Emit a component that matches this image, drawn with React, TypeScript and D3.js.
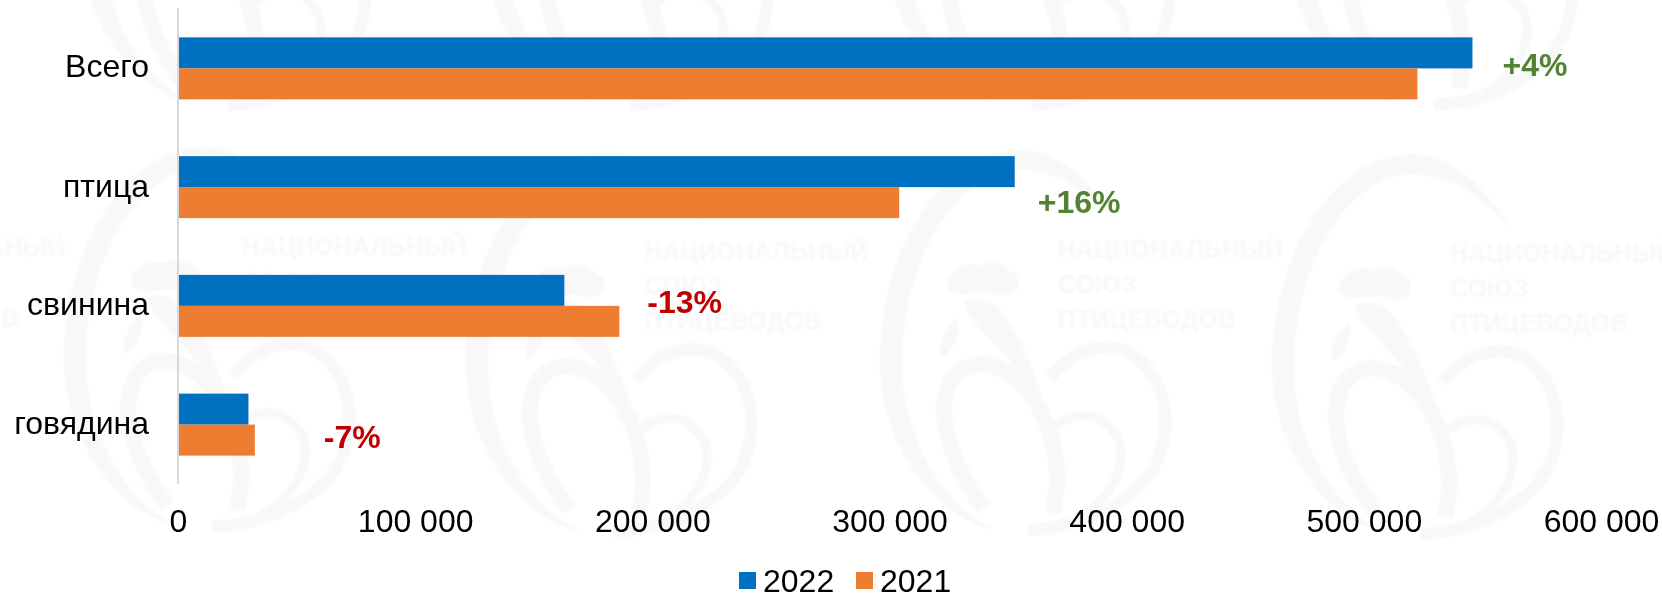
import { useRef, useEffect } from 'react';
import * as d3 from 'd3';

const categories = ['Всего', 'птица', 'свинина', 'говядина'];
const series2022 = [545800, 352800, 162900, 29700];
const series2021 = [522600, 304100, 186100, 32400];
const changes = ['+4%', '+16%', '-13%', '-7%'];
const xTicks = [0, 100000, 200000, 300000, 400000, 500000, 600000];
const seriesNames = ['2022', '2021'];
const watermarkLines = ['НАЦИОНАЛЬНЫЙ', 'СОЮЗ', 'ПТИЦЕВОДОВ'];

// label offsets from the longer bar of each group, placed by hand
const changeOffsets = [
  { dx: 30, dy: -4 },
  { dx: 23, dy: 15 },
  { dx: 28, dy: -4 },
  { dx: 69, dy: 12 },
];

const BLUE = '#0070c0';
const ORANGE = '#ed7d31';
const MARK = '#f8f8f8';
const FONT = '"Liberation Sans", Arial, sans-serif';

const width = 1662;
const height = 597;

// one tile of the background logo, origin at the start of the text
function drawLogo(g: d3.Selection<SVGGElement, unknown, null, undefined>, lines: boolean) {
  // egg outline, a crescent open at the right
  g.append('path')
    .attr('fill', MARK)
    .attr(
      'd',
      'M62,-31 C30,-85 -5,-108 -38,-108 C-115,-108 -178,-10 -178,105 C-178,185 -125,260 -61,272 C-115,250 -156,180 -156,105 C-156,0 -100,-88 -38,-88 C-5,-88 30,-70 62,-31 Z'
    );
  // comb
  g.append('path')
    .attr('fill', MARK)
    .attr('d', 'M-111,30 C-112,10 -90,3 -78,8 C-65,0 -50,8 -47,14 C-36,15 -36,33 -48,37 C-60,39 -70,32 -80,35 C-90,35 -100,40 -111,30 Z');
  // neck
  g.append('path')
    .attr('fill', MARK)
    .attr('d', 'M-95,42 C-80,38 -65,42 -55,55 C-35,85 -20,120 -8,165 C-28,125 -50,100 -65,85 C-75,72 -88,65 -95,42 Z');
  // wattle
  g.append('path')
    .attr('fill', MARK)
    .attr('d', 'M-100,60 C-112,68 -120,85 -118,99 C-106,95 -98,80 -100,60 Z');
  // wing and tail curls
  const curls = [
    { d: 'M-75,250 C-110,200 -125,150 -105,120 C-85,95 -50,105 -25,140 C-5,170 5,210 -5,255', w: 16 },
    { d: 'M-8,120 C20,85 60,80 85,105 C115,135 115,190 85,225 C60,250 20,270 -30,272', w: 12 },
    { d: 'M-5,170 C20,150 45,155 60,180 C70,205 55,240 20,260', w: 9 },
  ];
  curls.forEach((c) => {
    g.append('path')
      .attr('fill', 'none')
      .attr('stroke', MARK)
      .attr('stroke-width', c.w)
      .attr('d', c.d);
  });

  if (lines) {
    watermarkLines.forEach((t, i) => {
      g.append('text')
        .attr('x', 0)
        .attr('y', i * 35)
        .attr('fill', MARK)
        .attr('font-family', FONT)
        .attr('font-weight', '700')
        .attr('font-size', '25px')
        .text(t);
    });
  }
}

export default function App() {
  const svgRef = useRef<SVGSVGElement>(null);

  useEffect(() => {
    if (!svgRef.current) return;
    const svg = d3.select(svgRef.current);
    svg.selectAll('*').remove();

    const margin = { top: 8, left: 178, axisBottom: 484 };

    const xScale = d3.scaleLinear().domain([0, 600000]).range([margin.left, 1601]);
    const yScale = d3
      .scaleBand<string>()
      .domain(categories)
      .range([margin.top + 1, margin.axisBottom])
      .paddingInner(0.478)
      .paddingOuter(0.239);
    const barH = yScale.bandwidth() / 2;

    svg
      .append('defs')
      .append('filter')
      .attr('id', 'soft')
      .append('feGaussianBlur')
      .attr('stdDeviation', 0.9);

    // Background logos
    const logos = [
      { x: -159, y: 256, text: true },
      { x: 242, y: 255, text: true },
      { x: 644, y: 260, text: true },
      { x: 1058, y: 258, text: true },
      { x: 1450, y: 262, text: true },
      { x: 258, y: -167, text: false },
      { x: 660, y: -167, text: false },
      { x: 1062, y: -167, text: false },
      { x: 1464, y: -167, text: false },
    ];
    const logoLayer = svg.append('g').attr('filter', 'url(#soft)');
    logos.forEach((l) => {
      const g = logoLayer.append('g').attr('transform', `translate(${l.x},${l.y})`);
      drawLogo(g, l.text);
    });

    // Bars
    const bars = svg.append('g');
    bars
      .selectAll('.bar2022')
      .data(series2022)
      .enter()
      .append('rect')
      .attr('x', xScale(0))
      .attr('y', (_, i) => yScale(categories[i]) || 0)
      .attr('width', (d) => xScale(d) - xScale(0))
      .attr('height', barH)
      .attr('fill', BLUE);
    bars
      .selectAll('.bar2021')
      .data(series2021)
      .enter()
      .append('rect')
      .attr('x', xScale(0))
      .attr('y', (_, i) => (yScale(categories[i]) || 0) + barH)
      .attr('width', (d) => xScale(d) - xScale(0))
      .attr('height', barH)
      .attr('fill', ORANGE);

    // Y axis
    const yAxis = svg
      .append('g')
      .attr('transform', `translate(${margin.left},0)`)
      .call(d3.axisLeft(yScale).tickSize(0).tickPadding(29));
    yAxis.select('.domain').remove();
    yAxis
      .selectAll('.tick text')
      .attr('fill', '#000')
      .attr('font-family', FONT)
      .attr('font-size', '32px')
      .attr('dy', (_, i) => (i === 0 ? '0.27em' : '0.3em'));
    svg
      .append('line')
      .attr('x1', margin.left)
      .attr('x2', margin.left)
      .attr('y1', margin.top)
      .attr('y2', margin.axisBottom)
      .attr('stroke', '#d9d9d9')
      .attr('stroke-width', 2);

    // X axis labels only, no line in the original
    const fmt = (v: number) => d3.format(',')(v).replace(/,/g, ' ');
    const xAxis = svg
      .append('g')
      .attr('transform', `translate(0,${margin.axisBottom})`)
      .call(
        d3
          .axisBottom(xScale)
          .tickValues(xTicks)
          .tickSize(0)
          .tickPadding(25)
          .tickFormat((d) => fmt(d as number))
      );
    xAxis.select('.domain').remove();
    xAxis
      .selectAll('.tick text')
      .attr('fill', '#000')
      .attr('font-family', FONT)
      .attr('font-size', '32px');

    // Change labels
    svg
      .selectAll('.change')
      .data(changes)
      .enter()
      .append('text')
      .attr('class', 'change')
      .attr('x', (_, i) => xScale(Math.max(series2022[i], series2021[i])) + changeOffsets[i].dx)
      .attr('y', (_, i) => (yScale(categories[i]) || 0) + barH + changeOffsets[i].dy)
      .attr('dy', '0.35em')
      .attr('fill', (d) => (d.startsWith('+') ? '#548235' : '#c00000'))
      .attr('font-family', FONT)
      .attr('font-weight', '700')
      .attr('font-size', '32px')
      .text((d) => d);

    // Legend
    const legendColors = [BLUE, ORANGE];
    const legendX = d3.scaleOrdinal<string, number>().domain(seriesNames).range([739, 856]);
    seriesNames.forEach((name, i) => {
      const x = legendX(name);
      svg
        .append('rect')
        .attr('x', x)
        .attr('y', 572)
        .attr('width', 17)
        .attr('height', 17)
        .attr('fill', legendColors[i]);
      svg
        .append('text')
        .attr('x', x + 24)
        .attr('y', 592)
        .attr('fill', '#000')
        .attr('font-family', FONT)
        .attr('font-size', '32px')
        .text(name);
    });
  }, []);

  return (
    <svg
      ref={svgRef}
      width={width}
      height={height}
      style={{ position: 'absolute', left: 0, top: 0, display: 'block', background: '#fff' }}
    />
  );
}
